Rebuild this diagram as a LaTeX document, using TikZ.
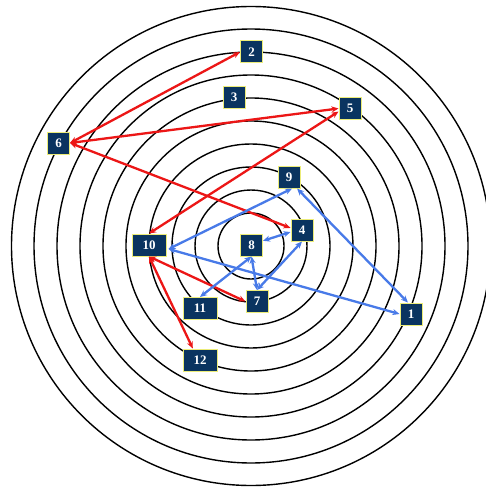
\documentclass[tikz,border=0pt]{standalone}
\usepackage{fontspec}
\setmainfont{Liberation Serif}
\usetikzlibrary{arrows.meta,calc}
\definecolor{boxnavy}{RGB}{10,52,96}
\definecolor{boxrim}{RGB}{236,236,120}
\definecolor{linkred}{RGB}{236,22,22}
\definecolor{linkblue}{RGB}{72,122,232}
\tikzset{
  numbox/.style={draw=boxrim, line width=1pt, fill=boxnavy, text=white,
    font=\fontsize{13}{13}\selectfont\bfseries, minimum height=22pt,
    minimum width=22pt, inner sep=0pt},
  widebox/.style={numbox, minimum width=34pt},
  ring/.style={draw=black, line width=1.4pt},
  redlink/.style={draw=linkred, line width=2.3pt, {Stealth[length=7pt,width=6pt]}-{Stealth[length=7pt,width=6pt]}},
  bluelink/.style={draw=linkblue, line width=2.3pt, {Stealth[length=7pt,width=6pt]}-{Stealth[length=7pt,width=6pt]}}
}
\begin{document}
\begin{tikzpicture}[x=1pt, y=-1pt]
  \useasboundingbox (0,0) rectangle (486,487);
  \clip (0,0) rectangle (486,487);
  \fill[white] (0,0) rectangle (486,487);
  % concentric rings
  \foreach \r in {33,56,79,102,125,148,171,194,217,239.5}
    \draw[ring] (251,246) circle[radius=\r];
  % numbered boxes
  \node[numbox]  (n1)  at (411,314)   {1};
  \node[numbox]  (n2)  at (251.5,52)  {2};
  \node[numbox]  (n3)  at (234,97)    {3};
  \node[numbox]  (n4)  at (302,230)   {4};
  \node[numbox]  (n5)  at (350,108.5) {5};
  \node[numbox]  (n6)  at (58.5,143)  {6};
  \node[numbox]  (n7)  at (257,301.5) {7};
  \node[numbox]  (n8)  at (251.5,245) {8};
  \node[numbox]  (n9)  at (289,177)   {9};
  \node[widebox] (n10) at (149,245)   {10};
  \node[widebox] (n11) at (200,308.5) {11};
  \node[widebox] (n12) at (200,360)   {12};
  \coordinate (t10) at ($(n10.east)+(2,4)$);
  % red links
  \draw[redlink] (n6.east) -- (n2.west);
  \draw[redlink] (n6.east) -- (n5.west);
  \draw[redlink] (n6.east) -- (n4.170);
  \draw[redlink] (n10.north) -- (n5.195);
  \draw[redlink] (n10.south) -- (n7.west);
  \draw[redlink] (n10.south) -- (n12.122);
  % blue links
  \draw[bluelink] (t10) -- (n9.-75);
  \draw[bluelink] (t10) -- (n1.west);
  \draw[bluelink] (n9.-55) -- (n1.105);
  \draw[bluelink] (n8.20) -- (n4.190);
  \draw[bluelink] (n8.south) -- (n11.north);
  \draw[bluelink] (n8.south) -- (n7.north);
  \draw[bluelink] (n7.north) -- (n4.south);
\end{tikzpicture}
\end{document}
